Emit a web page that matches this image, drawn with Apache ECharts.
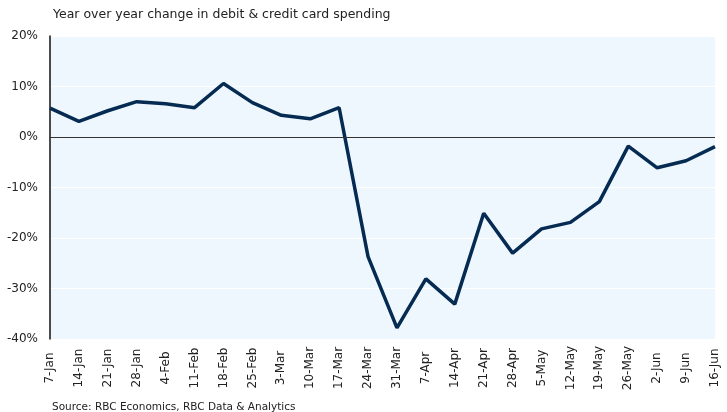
<!DOCTYPE html>
<html><head><meta charset="utf-8">
<script src="https://cdn.jsdelivr.net/npm/echarts@6/dist/echarts.min.js"></script>
<style>html,body{margin:0;padding:0;background:#fff}#c{width:727px;height:412px}</style>
</head><body><div id="c"></div>
<script>
var categories = ['7-Jan','14-Jan','21-Jan','28-Jan','4-Feb','11-Feb','18-Feb','25-Feb','3-Mar','10-Mar','17-Mar','24-Mar','31-Mar','7-Apr','14-Apr','21-Apr','28-Apr','5-May','12-May','19-May','26-May','2-Jun','9-Jun','16-Jun'];
var spending = [5.7,3.1,5.2,7.0,6.6,5.8,10.6,6.8,4.3,3.6,5.8,-23.7,-37.8,-28.1,-33.1,-15.1,-23.0,-18.2,-16.9,-12.8,-1.8,-6.1,-4.7,-1.9];
var yTicks = {min:-40, max:20, interval:10};
var subtitle = 'Year over year change in debit & credit card spending';
var source = 'Source: RBC Economics, RBC Data & Analytics';

var font = 'DejaVu Sans';
var chart = echarts.init(document.getElementById('c'));
chart.setOption({
  animation:false,
  backgroundColor:'#ffffff',
  textStyle:{fontFamily:font},
  title:[
    {text:subtitle,left:48,top:3,textStyle:{fontSize:12.5,fontWeight:'normal',color:'#222',fontFamily:font}},
    {text:source,left:47,top:397,textStyle:{fontSize:10.5,fontWeight:'normal',color:'#222',fontFamily:font}}
  ],
  grid:{left:50,right:12,top:36,bottom:73,show:true,backgroundColor:'#EFF7FE',borderWidth:0},
  xAxis:{type:'category',data:categories,boundaryGap:false,
    axisLine:{show:false},axisTick:{show:false},splitLine:{show:false},
    axisLabel:{rotate:90,interval:0,fontSize:12,color:'#222',margin:29,align:'center',fontFamily:font}},
  yAxis:{type:'value',min:yTicks.min,max:yTicks.max,interval:yTicks.interval,
    axisLine:{show:true,lineStyle:{color:'#111',width:1.5}},axisTick:{show:false},
    splitLine:{show:true,lineStyle:{color:'#ffffff',width:1}},
    axisLabel:{formatter:'{value}%',fontSize:12,color:'#222',margin:12,fontFamily:font}},
  series:[{type:'line',data:spending,symbol:'none',
    lineStyle:{color:'#062B52',width:3.5},
    markLine:{silent:true,symbol:['none','none'],label:{show:false},
      lineStyle:{color:'#333',width:1.2,type:'solid'},data:[{yAxis:0}]}}]
});
</script></body></html>
